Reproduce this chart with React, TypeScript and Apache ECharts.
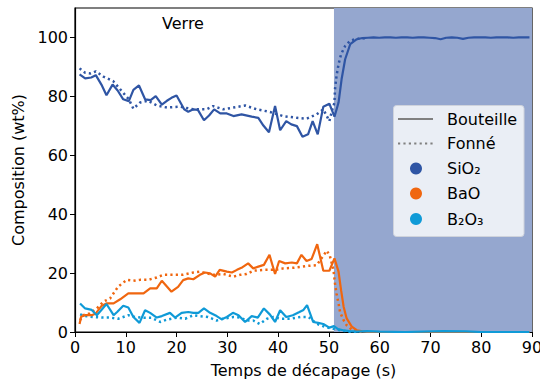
import React, { useEffect, useRef } from "react";
import * as echarts from "echarts";

const xTicks = [0, 10, 20, 30, 40, 50, 60, 70, 80, 90];
const yTicks = [0, 20, 40, 60, 80, 100];
const substratStart = 51;
const substratEnd = 90;

const sio2Bouteille: [number, number][] = [
  [0.9, 87.5], [2, 86.1], [3.2, 86.4], [4.1, 87.2], [5.2, 84], [6.2, 80.4], [7.4, 84], [8.4, 82],
  [9.5, 79], [10.6, 78.4], [11.5, 82.2], [12.6, 83.7], [13.8, 79], [14.9, 78.7], [15.9, 80.1],
  [17.1, 77.2], [18.1, 78.5], [19, 79.5], [20, 80.3], [21.5, 75.6], [22.3, 74.8], [23.3, 75.6],
  [24.2, 75.4], [25.4, 71.9], [26.4, 73.5], [27.4, 75.6], [28.6, 74.2], [29.9, 74.2], [31.2, 73.3],
  [32.8, 73.9], [34.8, 73.1], [36.1, 72.7], [37.1, 70.1], [38.2, 67.8], [39.4, 76.7], [40.4, 68.5],
  [41.6, 71.6], [42.6, 70.5], [43.7, 69.9], [44.8, 66.3], [45.9, 67.1], [46.8, 71.6], [47.8, 67.1],
  [48.9, 76.5], [50.1, 77.5], [51.1, 73.1], [51.9, 77.9], [52.5, 85.8], [53.2, 92.6], [54.2, 97.7],
  [55.5, 99.4], [56.6, 99.8], [57.7, 99.9], [58.8, 100], [59.9, 99.9], [61, 100], [62.1, 100],
  [63.2, 99.9], [64.3, 100], [65.4, 100], [66.5, 99.9], [67.6, 100], [68.7, 100], [69.8, 99.9],
  [70.9, 99.8], [72, 99.4], [73.1, 99.9], [74.2, 100], [75.3, 99.9], [76.4, 99.5], [77.5, 99.9],
  [78.6, 100], [79.7, 100], [80.8, 100], [81.9, 99.9], [83, 100], [84.1, 100], [85.2, 100],
  [86.3, 99.9], [87.4, 100], [88.5, 100], [89.5, 100],
];

const sio2Fonne: [number, number][] = [
  [0.9, 89.5], [2, 88], [3.1, 87.8], [4.1, 88.5], [5.6, 86.7], [7.5, 85.2], [9.2, 81.8], [10.6, 79],
  [11.5, 75.8], [12.8, 77.9], [14.4, 78.5], [16.1, 76.9], [18.1, 76.2], [20.7, 76.5], [23.3, 75.6],
  [25.9, 75.6], [27.2, 76.7], [29.2, 75.6], [31.2, 76.2], [33.5, 76.9], [35.8, 75.6], [38.4, 74.7],
  [41, 73.3], [43.7, 72.7], [45.6, 72.4], [47.6, 73.9], [48.9, 75.6], [50.1, 71.6], [50.5, 74.4],
  [51.1, 77.9], [51.2, 82.4], [51.5, 86.9], [51.9, 90.9], [52.4, 94.3], [53.2, 97.1], [54.2, 98.9],
  [55.2, 99.4], [56.3, 99.7], [57.5, 99.8],
];

const baoBouteille: [number, number][] = [
  [0.9, 2.7], [1.2, 5.2], [2, 5.7], [3.3, 5.7], [4.1, 6.3], [5.2, 8.8], [6.2, 9.7], [7.6, 9.7],
  [8.9, 11.1], [10.5, 13.1], [11.5, 13.1], [13.5, 13.1], [14.8, 14.8], [16.1, 14.8], [17.1, 17.4],
  [19, 13.7], [20.3, 15.3], [21.3, 17.6], [22.3, 18.2], [23.3, 17.9], [24.6, 19.4], [25.6, 20.2],
  [26.6, 19.9], [27.6, 18.8], [28.5, 21.1], [29.9, 20.5], [30.9, 20.2], [31.9, 21.1], [33, 22],
  [34.1, 23.3], [35.1, 21.6], [36.1, 22.2], [37.2, 22.8], [38.3, 26.2], [39.4, 19.7], [40.2, 24.1],
  [41.4, 23.3], [42.7, 23.6], [43.7, 23.3], [44.6, 26.2], [45.6, 24.1], [46.6, 24.8], [47.7, 29.8],
  [48.9, 20.8], [50.1, 20.8], [51.1, 25], [51.9, 20.5], [52.4, 14.2], [52.9, 8.6], [53.5, 4.6],
  [54.5, 1.8], [55.5, 0.6], [56.6, 0.2], [57.7, 0], [60, 0], [70, 0], [80, 0], [89.5, 0],
];

const baoFonne: [number, number][] = [
  [1, 4], [1.6, 5.7], [2.9, 6.3], [4.3, 8], [5.6, 10.3], [6.9, 11.4], [8.5, 15.4], [10.2, 17.7],
  [11.5, 17.4], [12.8, 17.7], [14.4, 17.7], [16.1, 18.5], [17.4, 19.4], [19.3, 19.4], [21.3, 19.4],
  [23.3, 20.2], [24.6, 20.5], [25.9, 19.9], [27.2, 19.4], [29.2, 19.7], [31.2, 18.8], [32.5, 19.4],
  [33.8, 19.7], [35.1, 20.8], [37.1, 21.1], [39.4, 21.1], [41, 21.6], [43, 21.8], [45.6, 22.4],
  [47.6, 22.7], [49.6, 27.6], [50.2, 25.8], [50.9, 21.1], [51.2, 16.5], [51.5, 13.1], [51.9, 9.7],
  [52.2, 6.8], [52.9, 4], [53.5, 2.3], [54.5, 0.8], [55.5, 0.1], [57, 0],
];

const b2o3Bouteille: [number, number][] = [
  [1, 9.7], [2, 8], [3.3, 7.5], [4.3, 5.7], [5.2, 7.5], [6.2, 9.5], [7.6, 5.7], [8.3, 6.8],
  [9.5, 8.9], [10.5, 8.3], [11.5, 5.1], [12.7, 3.1], [13.8, 7.4], [14.8, 6.5], [16.1, 4.9],
  [17.1, 5.4], [18.7, 6.5], [19.7, 4.9], [21, 6.5], [22.3, 6.8], [23.3, 6.5], [24.3, 6.5],
  [25.4, 8], [26.6, 6.5], [27.9, 5.4], [28.9, 4.3], [29.9, 5.1], [31.1, 6.5], [32.2, 5.7],
  [33.5, 3.4], [34.8, 5.4], [36, 4.9], [37.2, 8], [38.4, 5.9], [39.4, 3.4], [40.4, 7.4],
  [41.6, 5.1], [42.9, 5.7], [44.2, 6.8], [45, 7.5], [45.7, 9.1], [46.9, 3.4], [47.9, 3.1],
  [48.9, 2.7], [50.1, 1.5], [51, 2], [51.8, 1], [52.8, 0.6], [54, 0.3], [55.5, 0.1], [57.5, 0.3],
  [60, 0.1], [65, 0], [72.5, 0.3], [77, 0.2], [80, 0], [89.5, 0],
];

const b2o3Fonne: [number, number][] = [
  [1, 6], [2, 5.4], [3.6, 5.1], [5.2, 4.9], [6.9, 4.9], [8.5, 4.5], [10.5, 5.7], [11.8, 5.1],
  [13.5, 4.8], [15.1, 4.8], [16.8, 3.4], [18.1, 4.2], [20.1, 4.9], [21.7, 4.5], [23.3, 5.7],
  [24.6, 5.4], [26.2, 5.1], [27.9, 3.9], [29.2, 4.5], [31.2, 5.1], [32.5, 4.9], [33.8, 3.9],
  [35.1, 3.9], [36.4, 2.7], [37.8, 4.5], [39.1, 5.1], [40.4, 4.5], [42.4, 4.5], [44.4, 5.1],
  [46, 5.1], [47.6, 2.8], [49.3, 1.7], [50.9, 1.1], [52.2, 0.6], [54, 0.1], [56, 0],
];

const SIO2 = "#2f55a4";
const BAO = "#f0660f";
const B2O3 = "#0f9ad7";
const FONT = "DejaVu Sans";
const DOT: number[] = [2.2, 3.2];

function lineSeries(name: string, data: [number, number][], color: string, dotted: boolean) {
  return {
    name,
    type: "line",
    data,
    showSymbol: false,
    symbol: "none",
    z: 3,
    lineStyle: {
      color,
      width: dotted ? 2.5 : 2.2,
      type: dotted ? DOT : "solid",
    },
    emphasis: { disabled: true },
  };
}

export default function App() {
  const ref = useRef<HTMLDivElement>(null);
  useEffect(() => {
    if (!ref.current) return;
    const chart = echarts.init(ref.current, undefined, { renderer: "svg" });
    const legendTop = 105.5;
    const rows = [119, 143.5, 168.5, 193.5, 219];
    chart.setOption({
      animation: false,
      grid: {
        left: 75,
        right: 8,
        top: 8,
        bottom: 49,
        containLabel: false,
        outerBoundsMode: "none",
        show: true,
        borderColor: "#000",
        borderWidth: 1.2,
        backgroundColor: "transparent",
      },
      xAxis: {
        type: "value",
        min: 0,
        max: 90,
        interval: 10,
        name: "Temps de décapage (s)",
        nameLocation: "middle",
        nameGap: 30,
        nameTextStyle: { fontFamily: FONT, fontSize: 16, color: "#000" },
        axisLine: { show: true, lineStyle: { color: "#000", width: 1.2 } },
        axisTick: { show: true, length: 5, lineStyle: { color: "#000" } },
        axisLabel: { fontFamily: FONT, fontSize: 16, color: "#000", margin: 7, customValues: xTicks },
        splitLine: { show: false },
      },
      yAxis: {
        type: "value",
        min: 0,
        max: 110,
        name: "Composition (wt%)",
        nameLocation: "middle",
        nameGap: 46,
        nameTextStyle: { fontFamily: FONT, fontSize: 16, color: "#000" },
        axisLine: { show: true, lineStyle: { color: "#000", width: 1.2 } },
        axisTick: { show: true, length: 5, lineStyle: { color: "#000" }, customValues: yTicks },
        axisLabel: { fontFamily: FONT, fontSize: 16, color: "#000", margin: 7, customValues: yTicks },
        splitLine: { show: false },
      },
      series: [
        {
          name: "substrat",
          type: "line",
          data: [],
          z: 1,
          markArea: {
            silent: true,
            itemStyle: { color: "#95a7cf", opacity: 1 },
            data: [[{ xAxis: substratStart, yAxis: 0 }, { xAxis: substratEnd, yAxis: 110 }]],
          },
        },
        lineSeries("SiO2 Fonné", sio2Fonne, SIO2, true),
        lineSeries("BaO Fonné", baoFonne, BAO, true),
        lineSeries("B2O3 Fonné", b2o3Fonne, B2O3, true),
        lineSeries("SiO2 Bouteille", sio2Bouteille, SIO2, false),
        lineSeries("BaO Bouteille", baoBouteille, BAO, false),
        lineSeries("B2O3 Bouteille", b2o3Bouteille, B2O3, false),
      ],
      graphic: [
        {
          type: "text",
          x: 183,
          y: 23,
          style: { text: "Verre", fontFamily: FONT, fontSize: 16, fill: "#000", align: "center", verticalAlign: "middle" },
        },
        {
          type: "text",
          x: 413,
          y: 23,
          style: { text: "Substrat Si", fontFamily: FONT, fontSize: 16, fill: "#1f2d50", align: "center", verticalAlign: "middle" },
        },
        {
          type: "rect",
          shape: { x: 393.5, y: legendTop, width: 130.5, height: 131, r: 3 },
          style: { fill: "#eaeef5", stroke: "#cfd3dc", lineWidth: 1 },
          z: 10,
        },
        {
          type: "line",
          shape: { x1: 398, y1: rows[0], x2: 433, y2: rows[0] },
          style: { stroke: "#808080", lineWidth: 2 },
          z: 11,
        },
        {
          type: "line",
          shape: { x1: 398, y1: rows[1], x2: 433, y2: rows[1] },
          style: { stroke: "#808080", lineWidth: 2, lineDash: DOT },
          z: 11,
        },
        { type: "circle", shape: { cx: 416, cy: rows[2], r: 6 }, style: { fill: SIO2 }, z: 11 },
        { type: "circle", shape: { cx: 416, cy: rows[3], r: 6 }, style: { fill: BAO }, z: 11 },
        { type: "circle", shape: { cx: 416, cy: rows[4], r: 6 }, style: { fill: B2O3 }, z: 11 },
        ...["Bouteille", "Fonné", "SiO₂", "BaO", "B₂O₃"].map((t, i) => ({
          type: "text",
          x: 447,
          y: rows[i],
          z: 11,
          style: { text: t, fontFamily: FONT, fontSize: 16, fill: "#000", align: "left", verticalAlign: "middle" },
        })),
      ],
    });
    return () => chart.dispose();
  }, []);
  return (
    <div
      ref={ref}
      style={{ position: "absolute", left: 0, top: 0, width: 540, height: 381 }}
    />
  );
}
